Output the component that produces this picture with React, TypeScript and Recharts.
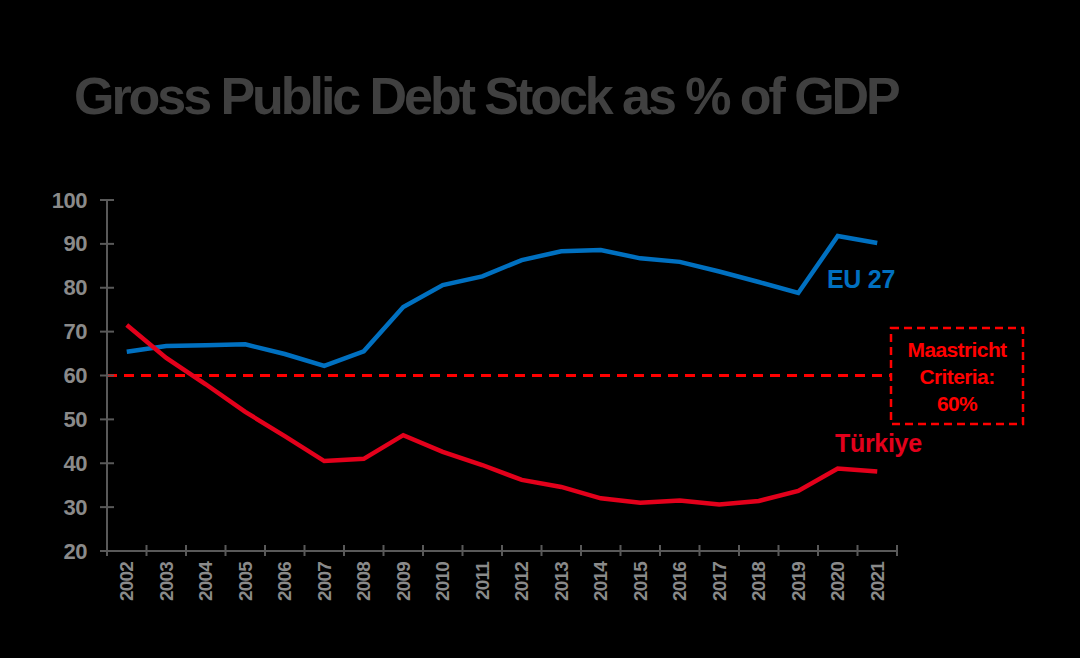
import { ComposedChart, Line, XAxis, YAxis, ReferenceLine } from "recharts"

const years = [
  "2002", "2003", "2004", "2005", "2006", "2007", "2008", "2009", "2010", "2011",
  "2012", "2013", "2014", "2015", "2016", "2017", "2018", "2019", "2020", "2021",
]
const eu27 = [65.4, 66.7, 66.9, 67.1, 64.9, 62.2, 65.5, 75.6, 80.6, 82.6, 86.3, 88.3, 88.6, 86.7, 85.9, 83.7, 81.3, 78.8, 91.8, 90.2]
const turkiye = [71.5, 64.0, 58.0, 51.7, 46.2, 40.5, 41.0, 46.4, 42.6, 39.6, 36.2, 34.6, 32.0, 31.0, 31.5, 30.6, 31.4, 33.7, 38.8, 38.1]
const yTicks = [20, 30, 40, 50, 60, 70, 80, 90, 100]
const maastricht = 60

const data = years.map((year, i) => ({ year, eu: eu27[i], tr: turkiye[i] }))

const W = 1080
const H = 658
const margin = { top: 200, right: 183, bottom: 47, left: 57 }
const Y_AXIS_W = 50
const PLOT_W = W - margin.left - Y_AXIS_W - margin.right
const BAND = PLOT_W / years.length

const AXIS = "#595959"
const LABEL = "#8a8a8a"
const BLUE = "#0070C0"
const RED = "#E3001B"
const FONT = "'Liberation Sans', Arial, sans-serif"

function YTick(props: any) {
  const { x, y, payload } = props
  return (
    <g>
      <line x1={x - 7} x2={x + 7} y1={y} y2={y} stroke={AXIS} strokeWidth={2} />
      <text x={x - 20} y={y} textAnchor="end" dominantBaseline="central" fill={LABEL}
        fontSize={22} fontWeight="bold" letterSpacing={-0.5} fontFamily={FONT}>
        {payload.value}
      </text>
    </g>
  )
}

function XTick(props: any) {
  const { x, y, payload, index } = props
  const last = index === years.length - 1
  return (
    <g>
      <line x1={x - BAND / 2} x2={x - BAND / 2} y1={y - 6} y2={y + 5} stroke={AXIS} strokeWidth={2} />
      {last && <line x1={x + BAND / 2} x2={x + BAND / 2} y1={y - 6} y2={y + 5} stroke={AXIS} strokeWidth={2} />}
      <text x={x} y={y + 11} transform={`rotate(-90 ${x} ${y + 11})`} textAnchor="end"
        dominantBaseline="central" fill={LABEL} fontSize={19} fontWeight="bold" letterSpacing={-0.8} fontFamily={FONT}>
        {payload.value}
      </text>
    </g>
  )
}

export default function App() {
  return (
    <div style={{ position: "fixed", left: 0, top: 0, width: W, height: H, background: "#000", fontFamily: FONT }}>
      <div style={{ position: "absolute", left: 74, top: 66, fontSize: 52, fontWeight: "bold", color: "#404040", letterSpacing: -3.05, whiteSpace: "nowrap", lineHeight: "60px" }}>
        Gross Public Debt Stock as % of GDP
      </div>
      <ComposedChart width={W} height={H} data={data} margin={margin}>
        <XAxis dataKey="year" type="category" scale="band" interval={0} tickSize={0} tickMargin={0} height={60}
          axisLine={{ stroke: AXIS, strokeWidth: 2 }} tickLine={false} tick={<XTick />} />
        <YAxis type="number" domain={[20, 100]} ticks={yTicks} interval={0} width={Y_AXIS_W} tickSize={0} tickMargin={0}
          axisLine={{ stroke: AXIS, strokeWidth: 2 }} tickLine={false} tick={<YTick />} />
        <ReferenceLine y={maastricht} stroke="#FF0000" strokeWidth={3} strokeDasharray="10 7" />
        <Line dataKey="eu" stroke={BLUE} strokeWidth={4.5} dot={false} isAnimationActive={false} />
        <Line dataKey="tr" stroke={RED} strokeWidth={4.5} dot={false} isAnimationActive={false} />
      </ComposedChart>
      <svg width={W} height={H} style={{ position: "absolute", left: 0, top: 0, pointerEvents: "none" }}>
        <rect x={891} y={328} width={132} height={96} fill="#000" stroke="#FF0000" strokeWidth={2.5} strokeDasharray="8 5" />
        <g fill="#FF0000" fontFamily={FONT} fontWeight="bold" fontSize={21} letterSpacing={-0.6} textAnchor="middle">
          <text x={957} y={357}>Maastricht</text>
          <text x={957} y={384}>Criteria:</text>
          <text x={957} y={411}>60%</text>
        </g>
        <text x={827} y={288} fill={BLUE} fontFamily={FONT} fontWeight="bold" fontSize={25} letterSpacing={-0.3}>EU 27</text>
        <text x={835} y={452} fill={RED} fontFamily={FONT} fontWeight="bold" fontSize={25} letterSpacing={-0.3}>Türkiye</text>
      </svg>
    </div>
  )
}
